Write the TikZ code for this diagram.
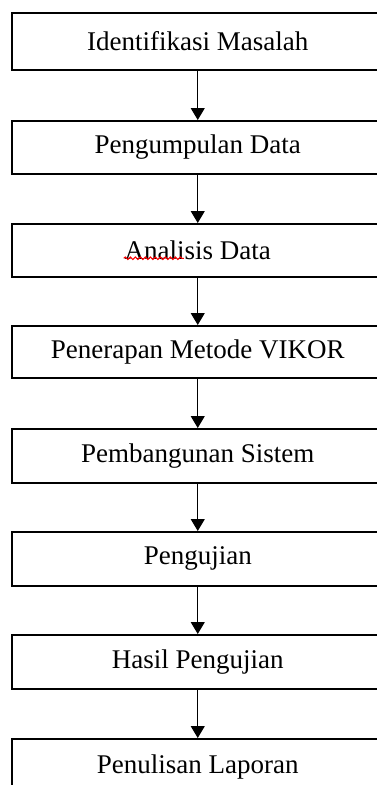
\documentclass[tikz,border=0pt]{standalone}
\usepackage{fontspec}
\setmainfont{Liberation Serif}
\usetikzlibrary{arrows.meta,decorations.pathmorphing}
\tikzset{
  stepbox/.style={draw=black, line width=1.5pt, minimum width=372pt, inner sep=0pt,
    font=\fontsize{27}{32}\selectfont, text=black, anchor=north west},
  flowarrow/.style={line width=1.1pt, -{Triangle[width=14pt,length=12pt]}}
}
\begin{document}
\begin{tikzpicture}[x=1pt,y=-1pt]
\useasboundingbox (0,0) rectangle (377,785);
\clip (0,0) rectangle (377,785);
\fill[white] (0,0) rectangle (377,785);
\node[stepbox, minimum height=57pt] (a1) at (11,12) {Identifikasi Masalah};
\node[stepbox, minimum height=53pt] (a2) at (11,120) {Pengumpulan Data};
\node[stepbox, minimum height=53pt] (a3) at (11,223) {Analisis Data};
\node[stepbox, minimum height=52pt] (a4) at (11,325) {Penerapan Metode VIKOR};
\node[stepbox, minimum height=54pt] (a5) at (11,428) {Pembangunan Sistem};
\node[stepbox, minimum height=54pt] (a6) at (11,531) {Pengujian};
\node[stepbox, minimum height=54pt] (a7) at (11,634) {Hasil Pengujian};
\node[stepbox, minimum height=56pt] (a8) at (11,738) {Penulisan Laporan};
\foreach \i/\j in {a1/a2,a2/a3,a3/a4,a4/a5,a5/a6,a6/a7,a7/a8}
  \draw[flowarrow] (\i.south) -- (\j.north);
\draw[red, line width=1pt, decorate, decoration={snake, amplitude=1.3pt, segment length=5pt}]
  ([xshift=-74pt,yshift=-8pt]a3.center) -- ([xshift=-14pt,yshift=-8pt]a3.center);
\end{tikzpicture}
\end{document}
